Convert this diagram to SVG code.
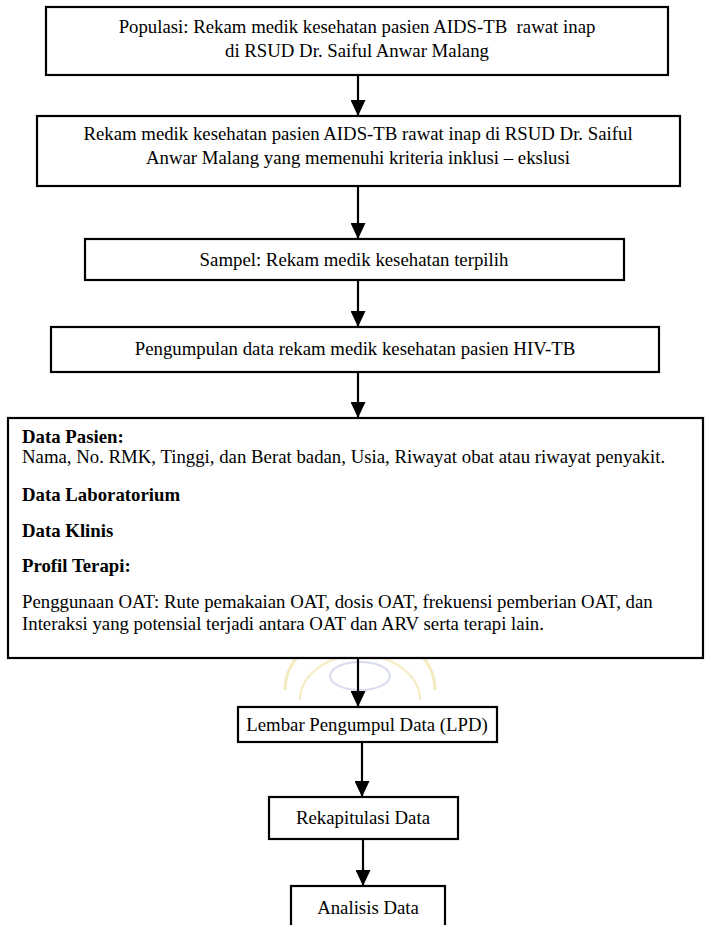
<svg xmlns="http://www.w3.org/2000/svg" width="705" height="925" viewBox="0 0 705 925">
<style>
.box{fill:#fff;stroke:#000;stroke-width:2.2}
.t{font-family:"Liberation Serif","Times New Roman",serif;font-size:18.8px;fill:#000}
.c{text-anchor:middle}
.b{font-weight:bold}
.con{stroke:#000;stroke-width:2.2;fill:none}
</style>
<defs>
<marker id="ah" markerUnits="userSpaceOnUse" markerWidth="16" markerHeight="15" refX="16" refY="7.5" orient="auto">
<path d="M0,0 L16,7.5 L0,15 Z" fill="#000"/>
</marker>
</defs>
<rect width="705" height="925" fill="#fff"/>
<g id="watermark" opacity="0.35">
<path d="M285,690 A75,60 0 0 1 435,690" fill="none" stroke="#e6c84a" stroke-width="3"/>
<path d="M300,700 A60,45 0 0 1 420,700" fill="none" stroke="#e6c84a" stroke-width="2"/>
<ellipse cx="360" cy="676" rx="30" ry="14" fill="none" stroke="#8c9ad0" stroke-width="2"/>
</g>
<g id="connectors">
<line class="con" x1="358" y1="75" x2="358" y2="116" marker-end="url(#ah)"/>
<line class="con" x1="358" y1="186" x2="358" y2="239" marker-end="url(#ah)"/>
<line class="con" x1="358" y1="279" x2="358" y2="327" marker-end="url(#ah)"/>
<line class="con" x1="358" y1="372" x2="358" y2="418" marker-end="url(#ah)"/>
<line class="con" x1="358" y1="658" x2="358" y2="707" marker-end="url(#ah)"/>
<line class="con" x1="362" y1="742" x2="362" y2="797" marker-end="url(#ah)"/>
<line class="con" x1="363" y1="839" x2="363" y2="886" marker-end="url(#ah)"/>
</g>
<g id="n1">
<rect class="box" x="46" y="7" width="622" height="68"/>
<text class="t c" x="357" y="33" xml:space="preserve">Populasi: Rekam medik kesehatan pasien AIDS-TB  rawat inap</text>
<text class="t c" x="357" y="57">di RSUD Dr. Saiful Anwar Malang</text>
</g>
<g id="n2">
<rect class="box" x="37" y="116" width="643" height="70"/>
<text class="t c" x="358" y="140">Rekam medik kesehatan pasien AIDS-TB rawat inap di RSUD Dr. Saiful</text>
<text class="t c" x="358" y="164">Anwar Malang yang memenuhi kriteria inklusi – ekslusi</text>
</g>
<g id="n3">
<rect class="box" x="85" y="239" width="539" height="41"/>
<text class="t c" x="354" y="266">Sampel: Rekam medik kesehatan terpilih</text>
</g>
<g id="n4">
<rect class="box" x="51" y="327" width="608" height="45"/>
<text class="t c" x="355" y="355">Pengumpulan data rekam medik kesehatan pasien HIV-TB</text>
</g>
<g id="n5">
<rect class="box" x="8" y="418" width="695" height="240"/>
<text class="t b" x="22" y="443">Data Pasien:</text>
<text class="t" x="22" y="463">Nama, No. RMK, Tinggi, dan Berat badan, Usia, Riwayat obat atau riwayat penyakit.</text>
<text class="t b" x="22" y="501">Data Laboratorium</text>
<text class="t b" x="22" y="537">Data Klinis</text>
<text class="t b" x="22" y="572">Profil Terapi:</text>
<text class="t" x="22" y="608">Penggunaan OAT: Rute pemakaian OAT, dosis OAT, frekuensi pemberian OAT, dan</text>
<text class="t" x="22" y="630">Interaksi yang potensial terjadi antara OAT dan ARV serta terapi lain.</text>
</g>
<g id="n6">
<rect class="box" x="238" y="707" width="259" height="35"/>
<text class="t c" x="367" y="731">Lembar Pengumpul Data (LPD)</text>
</g>
<g id="n7">
<rect class="box" x="269" y="797" width="189" height="42"/>
<text class="t c" x="363" y="824">Rekapitulasi Data</text>
</g>
<g id="n8">
<rect class="box" x="291" y="886" width="154" height="45"/>
<text class="t c" x="368" y="914">Analisis Data</text>
</g>
</svg>
